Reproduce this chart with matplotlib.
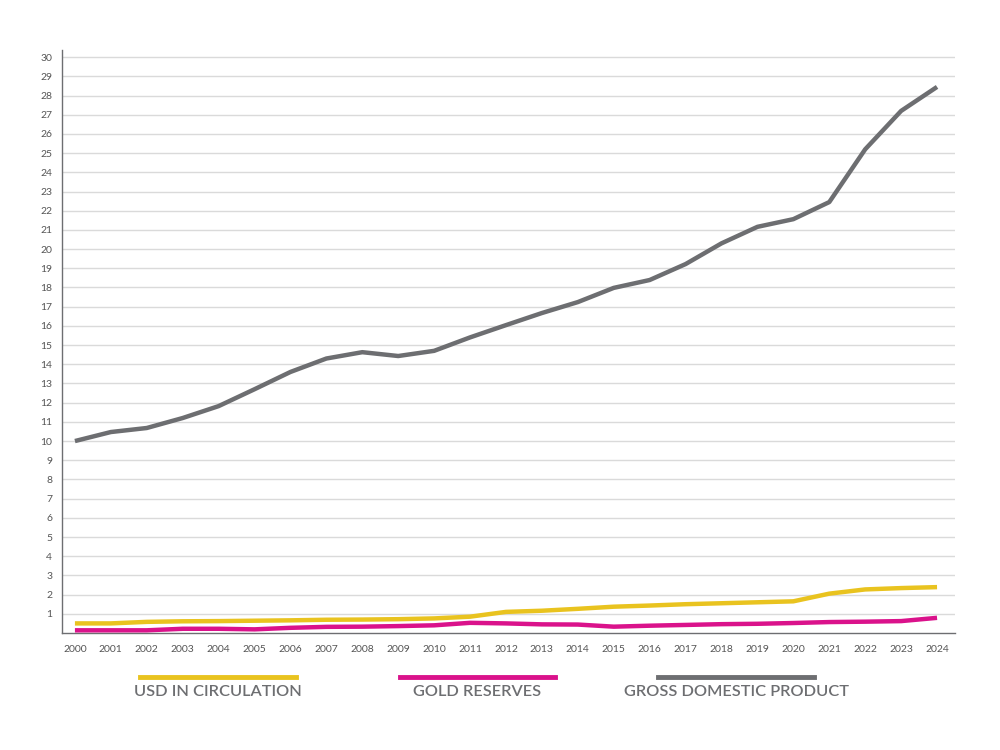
import matplotlib.pyplot as plt
from matplotlib.lines import Line2D

years = list(range(2000, 2025))

usd_in_circulation = [0.50, 0.50, 0.58, 0.61, 0.62, 0.64, 0.66, 0.69, 0.70, 0.72, 0.76,
                      0.85, 1.10, 1.16, 1.26, 1.37, 1.43, 1.50, 1.55, 1.60, 1.65,
                      2.05, 2.27, 2.34, 2.39]
gold_reserves = [0.14, 0.14, 0.14, 0.22, 0.22, 0.19, 0.27, 0.32, 0.33, 0.36, 0.40,
                 0.53, 0.50, 0.45, 0.44, 0.33, 0.38, 0.42, 0.46, 0.48, 0.52,
                 0.57, 0.59, 0.62, 0.79]
gdp = [10.0, 10.47, 10.68, 11.2, 11.82, 12.7, 13.6, 14.3, 14.63, 14.43, 14.7,
       15.4, 16.04, 16.67, 17.24, 17.98, 18.39, 19.22, 20.3, 21.16, 21.56,
       22.45, 25.2, 27.2, 28.45]

series_names = ['USD IN CIRCULATION', 'GOLD RESERVES', 'GROSS DOMESTIC PRODUCT']
colors = ['#E9C31F', '#DA128B', '#6D6E71']

plt.rcParams['font.family'] = ['Lato', 'DejaVu Sans']

fig = plt.figure(figsize=(10, 7.5), dpi=100)
ax = fig.add_axes([0.062, 0.156, 0.893, 0.777])

for vals, c in zip([usd_in_circulation, gold_reserves, gdp], colors):
    ax.plot(years, vals, color=c, lw=3.2, solid_capstyle='butt', zorder=3)

ax.set_ylim(0, 30.36)
ax.set_xlim(1999.64, 2024.5)
ax.set_yticks(range(1, 31))
ax.set_xticks(years)
ax.yaxis.grid(True, color='#DADADA', lw=1)
ax.set_axisbelow(True)
ax.tick_params(length=0, labelsize=7.5, colors='#555555')
ax.tick_params(axis='x', pad=9)
ax.tick_params(axis='y', pad=7)
for s in ['top', 'right']:
    ax.spines[s].set_visible(False)
for s in ['left', 'bottom']:
    ax.spines[s].set_color('#6D6E71')
    ax.spines[s].set_linewidth(1)

# legend drawn below the plot: a line over each label
legend_x = [(0.140, 0.296), (0.400, 0.555), (0.658, 0.814)]
for (x0, x1), name, c in zip(legend_x, series_names, colors):
    fig.add_artist(Line2D([x0, x1], [1 - 677 / 750] * 2, color=c, lw=3.5,
                          transform=fig.transFigure))
    fig.text((x0 + x1) / 2, 1 - 692 / 750, name, ha='center', va='center',
             fontsize=11.8, color='#6D6E71', fontweight='semibold')

fig.savefig('out.png', dpi=100)
